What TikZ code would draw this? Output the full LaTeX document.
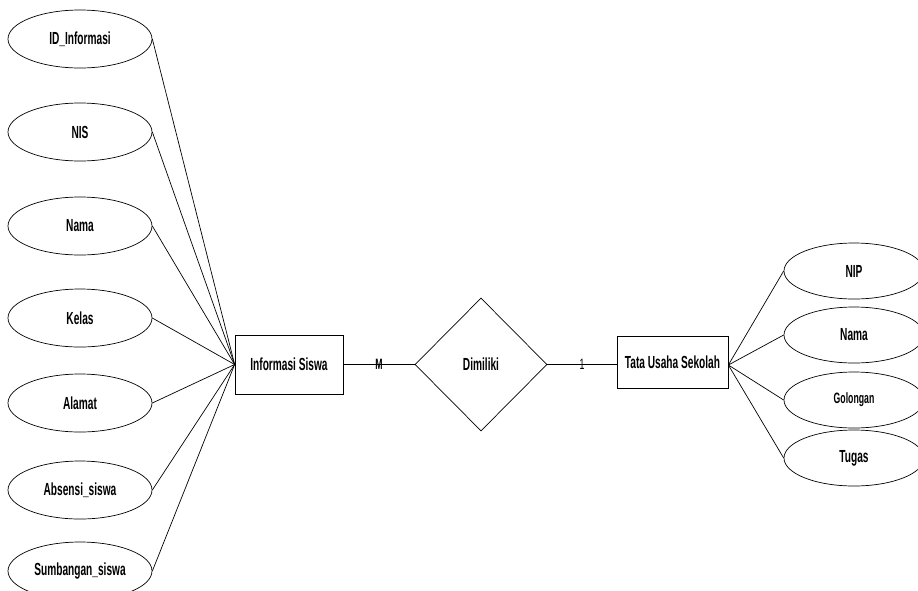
\documentclass[tikz,border=0pt]{standalone}
\usepackage{fontspec}
\setmainfont{Liberation Sans}[FakeStretch=0.58]
\usetikzlibrary{shapes.geometric, positioning}

\begin{document}
\begin{tikzpicture}[
    x=1pt, y=-1pt,
    attr/.style={draw, ellipse, line width=0.7pt, minimum width=144pt, minimum height=58pt, inner sep=0pt, font=\bfseries\fontsize{17.5}{17.5}\selectfont},
    attrright/.style={attr, minimum width=140pt, minimum height=56pt},
    entity/.style={draw, rectangle, line width=0.7pt, inner sep=0pt, font=\bfseries\fontsize{17.5}{17.5}\selectfont},
    relation/.style={draw, diamond, aspect=1, line width=0.7pt, minimum width=132pt, minimum height=133pt, inner sep=0pt, font=\bfseries\fontsize{17.5}{17.5}\selectfont},
    card/.style={font=\bfseries\fontsize{15}{15}\selectfont, inner sep=0pt},
    link/.style={line width=0.7pt}
]
    \useasboundingbox (0,0) rectangle (918,590);

    % Entitas dan relasi
    \node[entity, minimum width=108pt, minimum height=59pt] (infosiswa) at (289,364.5) {Informasi Siswa};
    \node[relation] (dimiliki) at (481,364.5) {Dimiliki};
    \node[entity, minimum width=111pt, minimum height=52pt] (tatausaha) at (672.5,362) {Tata Usaha Sekolah};

    % Atribut Informasi Siswa
    \node[attr] (idinfo) at (80,39) {ID\_Informasi};
    \node[attr] (nis) at (80,132) {NIS};
    \node[attr] (namasiswa) at (80,226) {Nama};
    \node[attr] (kelas) at (80,318) {Kelas};
    \node[attr] (alamat) at (80,403) {Alamat};
    \node[attr] (absensi) at (80,490) {Absensi\_siswa};
    \node[attr] (sumbangan) at (80,571) {Sumbangan\_siswa};

    % Atribut Tata Usaha Sekolah
    \node[attrright] (nip) at (854,271) {NIP};
    \node[attrright] (namatu) at (854,335) {Nama};
    \node[attrright, font=\bfseries\fontsize{15}{15}\selectfont] (golongan) at (854,400) {Golongan};
    \node[attrright] (tugas) at (854,458) {Tugas};

    % Garis atribut
    \draw[link] (idinfo.east) -- (infosiswa.west);
    \draw[link] (nis.east) -- (infosiswa.west);
    \draw[link] (namasiswa.east) -- (infosiswa.west);
    \draw[link] (kelas.east) -- (infosiswa.west);
    \draw[link] (alamat.east) -- (infosiswa.west);
    \draw[link] (absensi.east) -- (infosiswa.west);
    \draw[link] (sumbangan.east) -- (infosiswa.west);

    \coordinate (tuport) at ([yshift=-3pt]tatausaha.east);
    \draw[link] (tuport) -- (nip.west);
    \draw[link] (tuport) -- (namatu.west);
    \draw[link] (tuport) -- (golongan.west);
    \draw[link] (tuport) -- (tugas.west);

    % Relasi
    \draw[link] (infosiswa.east) -- (dimiliki.west) node[card, midway] {M};
    \draw[link] (dimiliki.east) -- (dimiliki.east -| tatausaha.west) node[card, midway, font=\fontsize{15}{15}\selectfont] {1};
\end{tikzpicture}
\end{document}
